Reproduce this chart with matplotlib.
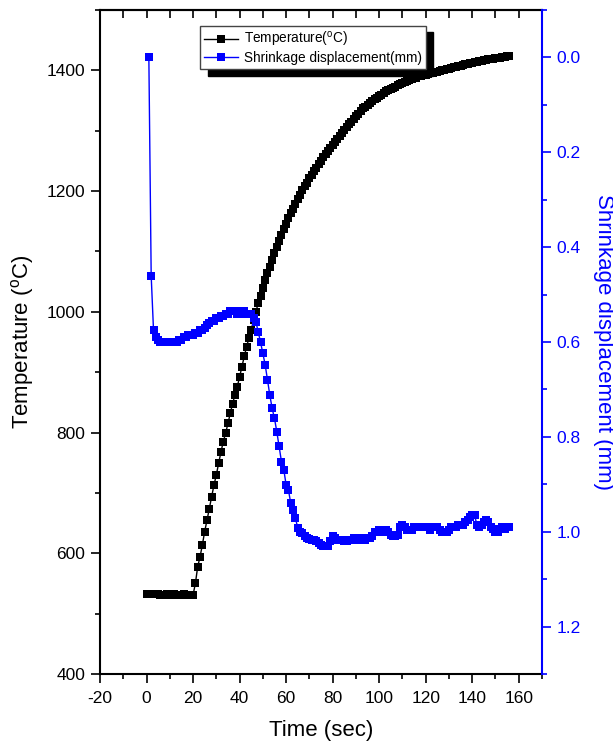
import numpy as np
import matplotlib
matplotlib.use("Agg")
import matplotlib.pyplot as plt
from matplotlib.ticker import MultipleLocator

plt.rcParams['font.family'] = ['Liberation Sans', 'DejaVu Sans']
plt.rcParams['mathtext.fontset'] = 'custom'
plt.rcParams['mathtext.rm'] = 'Liberation Sans'
plt.rcParams['mathtext.it'] = 'Liberation Sans:italic'

# ---------------- data ----------------
temp_time = np.arange(0, 157, 1)          # sec
temperature = [
    532, 533, 532, 532, 533, 532, 531, 531, 531, 532, 531, 531, 532, 531, 531, 531, 532, 531, 531, 531, 531,
    550, 578, 594, 614, 636, 655, 674, 694, 713, 730, 749, 768, 785, 799, 815, 832, 848, 862, 876, 892,
    909, 926, 942, 956, 970, 986, 1000, 1014,
    1027, 1040, 1052, 1064, 1075, 1086, 1097, 1107, 1117, 1127, 1137, 1146, 1155, 1163, 1171, 1179,
    1187, 1194, 1201, 1208, 1214, 1221, 1227, 1233, 1239, 1245, 1250, 1256, 1261, 1266, 1271, 1276,
    1281, 1286, 1291, 1296, 1301, 1306, 1311, 1315, 1320, 1324, 1328, 1332, 1337, 1340,
    1343, 1346, 1349, 1352, 1355, 1358, 1360, 1362, 1365, 1367, 1369, 1371, 1373, 1375,
    1377, 1379, 1380, 1382, 1384, 1385, 1387, 1388, 1390, 1391, 1392, 1393, 1394, 1395,
    1396, 1397, 1398, 1399, 1400, 1401, 1402, 1403, 1404, 1405, 1406, 1407, 1408, 1409,
    1410, 1411, 1412, 1413, 1414, 1414, 1415, 1416, 1417, 1417, 1418, 1419, 1419, 1420,
    1421, 1421, 1422, 1422, 1423, 1423,
]

shrink_time = np.arange(1, 157, 1)        # sec
shrinkage = [
    0.00, 0.46, 0.575, 0.59, 0.595, 0.60, 0.60, 0.60, 0.60, 0.60,
    0.60, 0.60, 0.60, 0.595, 0.595, 0.59, 0.59, 0.585, 0.585, 0.585,
    0.58, 0.58, 0.575, 0.575, 0.57, 0.565, 0.56, 0.555, 0.555, 0.55,
    0.55, 0.545, 0.545, 0.54, 0.54, 0.535, 0.535, 0.535, 0.54, 0.54,
    0.535, 0.535, 0.54, 0.54, 0.54, 0.55, 0.557, 0.578, 0.60, 0.624,
    0.648, 0.68, 0.712, 0.74, 0.761, 0.789, 0.82, 0.852, 0.869, 0.901,
    0.912, 0.94, 0.954, 0.971, 0.992, 1.00, 1.003, 1.01, 1.013, 1.015,
    1.017, 1.017, 1.02, 1.024, 1.027, 1.03, 1.03, 1.03, 1.02, 1.008,
    1.013, 1.017, 1.017, 1.017, 1.02, 1.02, 1.017, 1.017, 1.013, 1.013,
    1.017, 1.017, 1.013, 1.017, 1.013, 1.013, 1.01, 1.00, 1.00, 0.996,
    1.00, 1.00, 0.996, 1.00, 1.006, 1.01, 1.01, 1.006, 0.99, 0.985,
    0.99, 0.996, 0.996, 0.996, 0.99, 0.99, 0.99, 0.99, 0.99, 0.99,
    0.99, 0.996, 0.99, 0.99, 0.99, 0.996, 1.00, 1.00, 1.00, 0.996,
    0.99, 0.99, 0.99, 0.985, 0.985, 0.985, 0.98, 0.975, 0.97, 0.965,
    0.965, 0.985, 0.99, 0.985, 0.98, 0.975, 0.98, 0.99, 0.995, 1.00,
    1.00, 0.995, 0.99, 0.995, 0.99, 0.99,
]

x_ticks = [-20, 0, 20, 40, 60, 80, 100, 120, 140, 160]
left_ticks = [400, 600, 800, 1000, 1200, 1400]
right_ticks = [0.0, 0.2, 0.4, 0.6, 0.8, 1.0, 1.2]

BLUE = '#0000FF'

# ---------------- figure ----------------
fig = plt.figure(figsize=(6.13, 7.44), dpi=100)
ax = fig.add_axes([100 / 613, 1 - 674 / 744, 442 / 613, 664 / 744])
ax2 = ax.twinx()

l1, = ax.plot(temp_time, temperature, color='black', lw=1.0, marker='s',
              markersize=6, markeredgewidth=0, label='Temperature($^{\\mathrm{o}}$C)')
l2, = ax2.plot(shrink_time, shrinkage, color=BLUE, lw=1.0, marker='s',
               markersize=6, markeredgewidth=0, label='Shrinkage displacement(mm)')

ax.set_xlim(-20, 170)
ax.set_ylim(400, 1500)
ax2.set_ylim(1.3, -0.1)

ax.set_xticks(x_ticks)
ax.set_xticklabels([str(v) for v in x_ticks])
ax.xaxis.set_minor_locator(MultipleLocator(10))
ax.set_yticks(left_ticks)
ax.yaxis.set_minor_locator(MultipleLocator(100))
ax2.set_yticks(right_ticks)
ax2.set_yticklabels([f'{v:.1f}' for v in right_ticks])
ax2.yaxis.set_minor_locator(MultipleLocator(0.1))

for sp in ax.spines.values():
    sp.set_linewidth(1.5)
ax.spines['right'].set_visible(False)
for name in ['top', 'left', 'bottom']:
    ax2.spines[name].set_visible(False)
ax2.spines['right'].set_color(BLUE)
ax2.spines['right'].set_linewidth(1.5)

ax.tick_params(axis='both', which='major', direction='out', length=6.5, width=1.2,
               labelsize=12.5, pad=4, right=False)
ax.tick_params(axis='x', which='major', pad=6)
ax.tick_params(axis='both', which='minor', direction='out', length=3.5, width=1.2, right=False)
ax2.tick_params(axis='y', which='major', direction='out', length=6.5, width=1.2,
                labelsize=12.5, pad=4, colors=BLUE)
ax2.tick_params(axis='y', which='minor', direction='out', length=3.5, width=1.2, colors=BLUE)

secx = ax.secondary_xaxis('top')
secx.set_xticks(x_ticks)
secx.xaxis.set_minor_locator(MultipleLocator(10))
secx.tick_params(which='major', direction='in', length=6, width=1.2, labeltop=False)
secx.tick_params(which='minor', direction='in', length=6, width=1.2)
secx.spines['top'].set_linewidth(1.5)

ax.set_xlabel('Time (sec)', fontsize=16, labelpad=10)
ax.set_ylabel('Temperature ($^{\\mathrm{o}}$C)', fontsize=16, labelpad=8)
ax2.set_ylabel('Shrinkage displacement (mm)', fontsize=16, color=BLUE, rotation=-90,
               labelpad=24)

leg = ax2.legend(handles=[l1, l2], loc='upper left', bbox_to_anchor=(0.227, 0.976),
                 borderaxespad=0, fontsize=9.8, handlelength=2.5, handletextpad=0.4,
                 labelspacing=0.15, borderpad=0.3, fancybox=False, framealpha=1,
                 edgecolor='#444444',
                 shadow={'ox': 5.4, 'oy': -4.7, 'color': 'black', 'alpha': 1})
leg.get_frame().set_linewidth(1.0)

fig.savefig('out.png', dpi=100)
